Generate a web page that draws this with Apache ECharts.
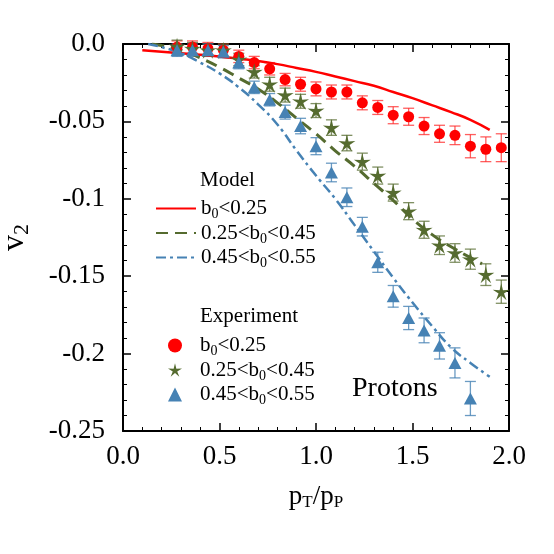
<!DOCTYPE html>
<html>
<head>
<meta charset="utf-8">
<script src="https://cdn.jsdelivr.net/npm/echarts@6/dist/echarts.min.js"></script>
<style>
html,body{margin:0;padding:0;background:#fff;}
#chart{width:554px;height:554px;}
</style>
</head>
<body>
<div id="chart"></div>
<script>
// tick labels
var xTickLabels = ["0.0", "0.5", "1.0", "1.5", "2.0"];
var yTickLabels = ["0.0", "-0.05", "-0.1", "-0.15", "-0.2", "-0.25"];

// model curves
var modelX1 = [0.1,0.2,0.3,0.4,0.5,0.6,0.7,0.8,0.9,1.0,1.1,1.2,1.3,1.4,1.5,1.6,1.7,1.8,1.9];
var modelY1 = [-0.004,-0.005,-0.006,-0.007,-0.008,-0.0095,-0.011,-0.013,-0.0155,-0.018,-0.021,-0.024,-0.027,-0.031,-0.035,-0.0395,-0.044,-0.049,-0.0555];
var modelX2 = [0.15,0.2,0.3,0.4,0.5,0.6,0.7,0.8,0.9,1.0,1.1,1.2,1.3,1.4,1.5,1.6,1.7,1.8,1.86];
var modelY2 = [0,-0.001,-0.004,-0.009,-0.015,-0.022,-0.029,-0.038,-0.048,-0.058,-0.069,-0.079,-0.090,-0.101,-0.113,-0.123,-0.131,-0.138,-0.142];
var modelX3 = [0.13,0.2,0.3,0.4,0.5,0.6,0.7,0.8,0.9,1.0,1.1,1.2,1.3,1.4,1.5,1.6,1.7,1.8,1.9];
var modelY3 = [0,-0.002,-0.006,-0.012,-0.019,-0.028,-0.039,-0.052,-0.069,-0.085,-0.100,-0.117,-0.134,-0.151,-0.167,-0.182,-0.196,-0.206,-0.215];

// experiment points
var expX = [0.28,0.36,0.44,0.52,0.60,0.68,0.76,0.84,0.92,1.00,1.08,1.16,1.24,1.32,1.40,1.48,1.56,1.64,1.72,1.80,1.88,1.96];
var expY1 = [-0.002,-0.002,-0.003,-0.004,-0.008,-0.012,-0.016,-0.023,-0.026,-0.029,-0.031,-0.031,-0.038,-0.041,-0.046,-0.047,-0.053,-0.058,-0.059,-0.066,-0.068,-0.067];
var expE1 = [0.004,0.004,0.004,0.004,0.004,0.004,0.004,0.004,0.0045,0.0045,0.0045,0.0045,0.0045,0.0045,0.0055,0.0055,0.0055,0.0055,0.006,0.0075,0.008,0.009];
var expY2 = [-0.0015,-0.003,-0.004,-0.004,-0.010,-0.018,-0.026,-0.033,-0.037,-0.043,-0.054,-0.064,-0.076,-0.085,-0.096,-0.108,-0.120,-0.130,-0.135,-0.139,-0.149,-0.160];
var expE2 = [0.004,0.004,0.004,0.004,0.004,0.004,0.0045,0.0045,0.0045,0.0045,0.005,0.005,0.0055,0.0055,0.0055,0.0055,0.0055,0.006,0.006,0.0065,0.007,0.0075];
var expY3 = [-0.004,-0.004,-0.004,-0.005,-0.012,-0.028,-0.036,-0.044,-0.053,-0.066,-0.083,-0.099,-0.118,-0.141,-0.163,-0.177,-0.185,-0.195,-0.206,-0.229];
var expE3 = [0.004,0.004,0.004,0.004,0.004,0.004,0.004,0.0045,0.005,0.0055,0.006,0.006,0.006,0.0065,0.007,0.0075,0.008,0.0085,0.0097,0.011];

var RED = "#ff0000", GREEN = "#556b2f", BLUE = "#4682b4";
var FONT = "Liberation Serif";

var legendText = {
	"m1": "{n|b}{s|0}{n|<0.25}",
	"m2": "{n|0.25<b}{s|0}{n|<0.45}",
	"m3": "{n|0.45<b}{s|0}{n|<0.55}",
	"e1": "{n|b}{s|0}{n|<0.25}",
	"e2": "{n|0.25<b}{s|0}{n|<0.45}",
	"e3": "{n|0.45<b}{s|0}{n|<0.55}"
};

function pairs(xs, ys){
	var out = [];
	for(var i=0;i<ys.length;i++){
		out.push([xs[i], ys[i]]);
	}
	return out;
}
function bars(xs, ys, es){
	var out = [];
	for(var i=0;i<ys.length;i++){
		out.push([xs[i], ys[i]-es[i], ys[i]+es[i]]);
	}
	return out;
}

// thin five-point star symbol
function starPath(){
	var pts = [];
	for(var i=0;i<10;i++){
		var r = (i%2==0) ? 50 : 16;
		var a = Math.PI/2 + i*Math.PI/5;
		pts.push((50 + r*Math.cos(a)).toFixed(2) + "," + (50 - r*Math.sin(a)).toFixed(2));
	}
	return "path://M" + pts.join("L") + "Z";
}
var STAR = starPath();

function errRender(color){
	return function(params, api){
		var x = api.value(0);
		var lo = api.coord([x, api.value(1)]);
		var hi = api.coord([x, api.value(2)]);
		var w = 5.5;
		var st = {stroke: color, lineWidth: 1.3};
		return {
			type: "group",
			children: [
				{type:"line", shape:{x1:lo[0], y1:lo[1], x2:hi[0], y2:hi[1]}, style:st},
				{type:"line", shape:{x1:lo[0]-w, y1:lo[1], x2:lo[0]+w, y2:lo[1]}, style:st},
				{type:"line", shape:{x1:hi[0]-w, y1:hi[1], x2:hi[0]+w, y2:hi[1]}, style:st}
			]
		};
	};
}

var chart = echarts.init(document.getElementById("chart"));

var tickStyle = {show:true, inside:true, length:8, lineStyle:{color:"#000", width:1.5}};
var minorStyle = {show:true, splitNumber:5, length:4, lineStyle:{color:"#000", width:1}};
var axisLineStyle = {show:true, onZero:false, lineStyle:{color:"#000", width:2}};

var legendRich = {
	n: {fontFamily: FONT, fontSize: 21, color: "#000"},
	s: {fontFamily: FONT, fontSize: 14, color: "#000", padding: [12,0,0,0]}
};

var option = {
	animation: false,
	backgroundColor: "#fff",
	grid: {left: 123, right: 45, top: 44, bottom: 123, containLabel: false, outerBoundsMode: "none"},
	xAxis: [{
		type: "value", min: 0, max: 2, interval: 0.5,
		axisLine: axisLineStyle, axisTick: tickStyle, minorTick: minorStyle,
		splitLine: {show:false},
		axisLabel: {
			margin: 12, color: "#000", fontFamily: FONT, fontSize: 27,
			formatter: function(v){ return xTickLabels[Math.round(v/0.5)]; }
		},
		name: "{i|p}{s|T}{i|/p}{s|P}",
		nameLocation: "middle", nameGap: 51,
		nameTextStyle: {
			rich: {
				i: {fontFamily: FONT, fontSize: 27, color: "#000"},
				s: {fontFamily: FONT, fontSize: 17, color: "#000", padding: [12,0,0,0]}
			}
		}
	},{
		type: "value", position: "top", min: 0, max: 2, interval: 0.5,
		axisLine: axisLineStyle, axisTick: tickStyle, minorTick: minorStyle,
		splitLine: {show:false}, axisLabel: {show:false}
	}],
	yAxis: [{
		type: "value", min: -0.25, max: 0, interval: 0.05,
		axisLine: axisLineStyle, axisTick: tickStyle, minorTick: minorStyle,
		splitLine: {show:false},
		axisLabel: {
			margin: 18, color: "#000", fontFamily: FONT, fontSize: 27,
			formatter: function(v){ return yTickLabels[Math.round(-v/0.05)]; }
		},
		name: "{i|v}{s|2}",
		nameLocation: "middle", nameGap: 90, nameRotate: 90,
		nameTextStyle: {
			rich: {
				i: {fontFamily: FONT, fontSize: 32, color: "#000"},
				s: {fontFamily: FONT, fontSize: 22, color: "#000", padding: [14,0,0,0]}
			}
		}
	},{
		type: "value", position: "right", min: -0.25, max: 0, interval: 0.05,
		axisLine: axisLineStyle, axisTick: tickStyle, minorTick: minorStyle,
		splitLine: {show:false}, axisLabel: {show:false}
	}],
	legend: [{
		data: ["m1","m2","m3"],
		orient: "vertical", left: 150, top: 193,
		itemWidth: 40, itemHeight: 14, itemGap: 1,
		itemStyle: {opacity: 0},
		formatter: function(n){ return legendText[n]; },
		textStyle: {rich: legendRich}
	},{
		data: [
			{name:"e1", icon:"circle"},
			{name:"e2", icon:STAR},
			{name:"e3", icon:"triangle"}
		],
		orient: "vertical", left: 163, top: 330,
		itemWidth: 14, itemHeight: 14, itemGap: 1,
		formatter: function(n){ return legendText[n]; },
		textStyle: {padding: [0,0,0,13], rich: legendRich}
	}],
	graphic: [
		{type:"text", left: 200, top: 170, style:{text:"Model", font:"21px " + FONT, fill:"#000"}},
		{type:"text", left: 200, top: 306, style:{text:"Experiment", font:"21px " + FONT, fill:"#000"}},
		{type:"text", left: 352, top: 375, style:{text:"Protons", font:"28px " + FONT, fill:"#000"}}
	],
	series: [
		{name:"m1", type:"line", data:pairs(modelX1, modelY1), showSymbol:false, symbol:"none", smooth:true,
			lineStyle:{color:RED, width:2.5}, itemStyle:{color:RED}, z:3},
		{name:"m2", type:"line", data:pairs(modelX2, modelY2), showSymbol:false, symbol:"none", smooth:true,
			lineStyle:{color:GREEN, width:3, type:[12,7]}, itemStyle:{color:GREEN}, z:3},
		{name:"m3", type:"line", data:pairs(modelX3, modelY3), showSymbol:false, symbol:"none", smooth:true,
			lineStyle:{color:BLUE, width:2.5, type:[10,4,3,4]}, itemStyle:{color:BLUE}, z:3},
		{type:"custom", renderItem:errRender("rgba(255,40,40,0.75)"), data:bars(expX, expY1, expE1), encode:{x:0, y:[1,2]}, z:2, silent:true},
		{type:"custom", renderItem:errRender("rgba(85,107,47,0.75)"), data:bars(expX, expY2, expE2), encode:{x:0, y:[1,2]}, z:2, silent:true},
		{type:"custom", renderItem:errRender("rgba(70,130,180,0.8)"), data:bars(expX, expY3, expE3), encode:{x:0, y:[1,2]}, z:2, silent:true},
		{name:"e1", type:"scatter", data:pairs(expX, expY1), symbol:"circle", symbolSize:11, itemStyle:{color:RED, opacity:1}, z:4},
		{name:"e2", type:"scatter", data:pairs(expX, expY2), symbol:STAR, symbolSize:17, itemStyle:{color:GREEN, opacity:1}, z:5},
		{name:"e3", type:"scatter", data:pairs(expX, expY3), symbol:"triangle", symbolSize:[13,12], itemStyle:{color:BLUE, opacity:1}, z:6}
	]
};

chart.setOption(option);
</script>
</body>
</html>
